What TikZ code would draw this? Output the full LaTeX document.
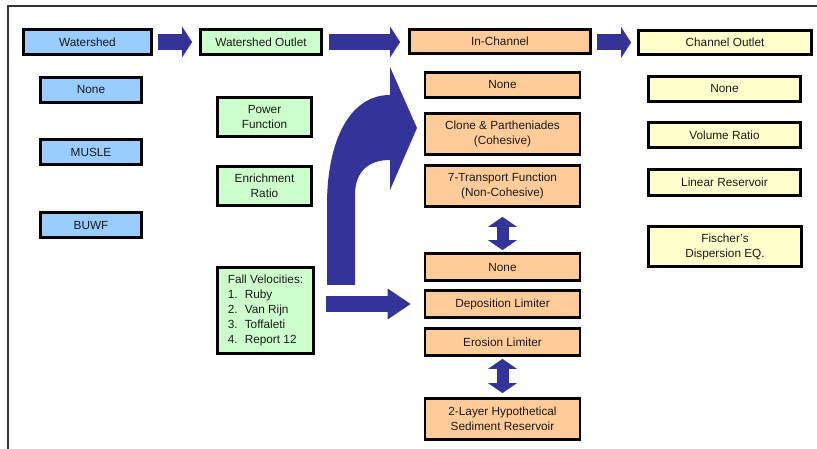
\documentclass[tikz,border=0pt]{standalone}
\usepackage{fontspec}
\setmainfont{Liberation Sans}
\usetikzlibrary{arrows.meta}
\definecolor{wsblue}{HTML}{99CCFF}
\definecolor{wsgreen}{HTML}{CCFFCC}
\definecolor{chorange}{HTML}{FFCC99}
\definecolor{coyellow}{HTML}{FFFFCC}
\definecolor{arrowblue}{HTML}{333399}
\begin{document}
\begin{tikzpicture}[x=1pt, y=-1pt,
    every node/.style={rectangle, draw=black, line width=2.8pt, align=center, inner sep=0pt,
      font=\fontsize{11.8}{15}\selectfont, text=black!90},
    wsbox/.style={fill=wsblue, minimum width=101pt, minimum height=25pt},
    outbox/.style={fill=wsgreen, minimum width=94pt, minimum height=39pt},
    chbox/.style={fill=chorange, minimum width=155pt},
    cobox/.style={fill=coyellow, minimum width=152.5pt, minimum height=25pt},
    flow/.style={draw=arrowblue, line width=16pt, -{Triangle[length=10pt, width=31pt, line width=0pt]}},
    swap/.style={draw=arrowblue, line width=12pt,
      {Triangle[length=10pt, width=29pt, line width=0pt]}-{Triangle[length=10pt, width=29pt, line width=0pt]}}]
    \useasboundingbox (0,0) rectangle (817,449);
    % Frame
    \draw[black!80, line width=2pt] (8,449) -- (8,6) -- (817,6);

    % Top row
    \node (watershed) [fill=wsblue, minimum width=128pt, minimum height=25pt] at (87.5,42) {Watershed};
    \node (wsoutlet) [fill=wsgreen, minimum width=121pt, minimum height=25pt] at (261,42) {Watershed Outlet};
    \node (inchannel) [fill=chorange, minimum width=181pt, minimum height=24pt] at (500,41.5) {In-Channel};
    \node (choutlet) [fill=coyellow, minimum width=173pt, minimum height=24pt] at (725,42.5) {Channel Outlet};

    % Watershed options
    \node (wsnone) [wsbox] at (91,90) {None};
    \node (wsmusle) [wsbox] at (91,152) {MUSLE};
    \node (wsbuwf) [wsbox] at (91,225) {BUWF};

    % Watershed outlet options
    \node (power) [outbox] at (264.5,117) {Power\\Function};
    \node (enrich) [outbox] at (264.5,186) {Enrichment\\Ratio};
    \node (fall) [fill=wsgreen, minimum width=96pt, minimum height=86pt, align=left] at (265.5,310.5)
      {Fall Velocities:\\\makebox[17pt][l]{1.}Ruby\\\makebox[17pt][l]{2.}Van Rijn\\
       \makebox[17pt][l]{3.}Toffaleti\\\makebox[17pt][l]{4.}Report 12};

    % In-channel options
    \node (icnone) [chbox, minimum height=25pt] at (502.5,85) {None};
    \node (clone) [chbox, minimum height=41pt] at (502.5,134) {Clone \& Partheniades\\(Cohesive)};
    \node (transport) [chbox, minimum height=41pt] at (502.5,186) {7-Transport Function\\(Non-Cohesive)};
    \node (bednone) [chbox, minimum height=27pt] at (502.5,267) {None};
    \node (deposit) [chbox, minimum height=27pt] at (502.5,304) {Deposition Limiter};
    \node (erosion) [chbox, minimum height=27pt] at (502.5,342) {Erosion Limiter};
    \node (layer) [chbox, minimum height=41pt] at (502.5,419) {2-Layer Hypothetical\\Sediment Reservoir};

    % Channel outlet options
    \node (conone) [cobox] at (724.5,89) {None};
    \node (covolume) [cobox] at (724.5,135) {Volume Ratio};
    \node (colinear) [cobox, minimum height=26pt] at (724.5,182.5) {Linear Reservoir};
    \node (cofischer) [cobox, minimum width=153pt, minimum height=40pt] at (725,246.5) {Fischer's\\Dispersion EQ.};

    % Arrows
    \draw[flow, shorten <=5pt, shorten >=7pt] (watershed) -- (wsoutlet);
    \draw[flow, shorten <=6pt, shorten >=8pt] (wsoutlet) -- (wsoutlet -| inchannel.west);
    \draw[flow, shorten <=5pt, shorten >=6pt] (inchannel.east |- choutlet) -- (choutlet);
    \draw[flow, line width=15pt, -{Triangle[length=23pt, width=31pt, line width=0pt]}, shorten <=11pt, shorten >=13pt]
      (fall.east |- deposit) -- (deposit.west);
    \draw[swap, shorten <=9pt, shorten >=2pt] (transport.south) -- (bednone.north);
    \draw[swap, shorten <=2pt, shorten >=4pt] (erosion.south) -- (layer.north);

    % Bent arrow into the channel
    \fill[arrowblue] (327,285) -- (327,205) .. controls (327,140) and (350,95) .. (390,95)
      -- (390,67) -- (417,128) -- (390,190) -- (390,160)
      .. controls (368,160) and (355,172) .. (355,195) -- (355,285) -- cycle;
\end{tikzpicture}
\end{document}
